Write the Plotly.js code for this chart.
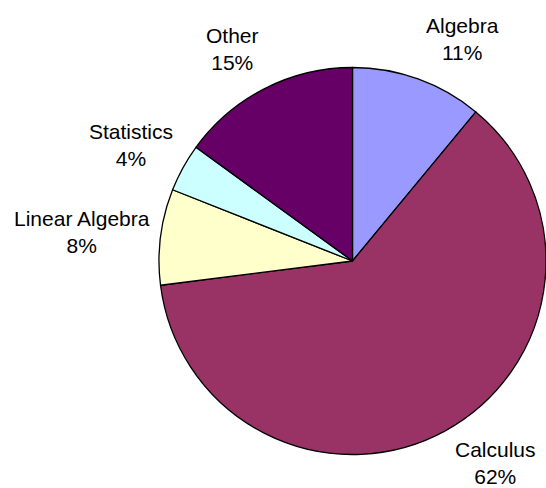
<!DOCTYPE html>
<html>
<head>
<meta charset="utf-8">
<script src="https://cdn.plot.ly/plotly-3.0.1.min.js"></script>
<style>
html,body{margin:0;padding:0;background:#fff;overflow:hidden;}
#chart{width:546px;height:488px;}
</style>
</head>
<body>
<div id="chart"></div>
<script>
// ---- data ----
const categories = ['Algebra', 'Calculus', 'Linear Algebra', 'Statistics', 'Other'];
const shares = [11, 62, 8, 4, 15];
const sliceColors = ['#9999FF', '#993366', '#FFFFCC', '#CCFFFF', '#660066'];

// ---- layout helpers (label placement in pixels: centre x, top y) ----
const W = 546, H = 488;
const labelAnchors = [
  [462.5, 11.5],
  [495.5, 436],
  [82, 205],
  [131, 118.3],
  [232.5, 22]
];

const total = shares.reduce((a, b) => a + b, 0);
const annotations = categories.map((c, i) => ({
  text: c + '<br>' + Math.round(shares[i] / total * 100) + '%',
  x: labelAnchors[i][0] / W,
  y: 1 - labelAnchors[i][1] / H,
  xref: 'paper', yref: 'paper',
  xanchor: 'center', yanchor: 'top',
  showarrow: false,
  align: 'center',
  font: {family: '"Liberation Sans", Arial, sans-serif', size: 21, color: '#000'}
}));

const trace = {
  type: 'pie',
  labels: categories,
  values: shares,
  sort: false,
  direction: 'clockwise',
  rotation: 0,
  textinfo: 'none',
  hoverinfo: 'label+percent',
  marker: {colors: sliceColors, line: {color: '#000', width: 1.3}},
  domain: {x: [159 / W, 1], y: [1 - (261 + 193.5) / H, 1 - (261 - 193.5) / H]}
};

const layout = {
  width: W, height: H,
  margin: {l: 0, r: 0, t: 0, b: 0},
  paper_bgcolor: '#fff',
  showlegend: false,
  annotations: annotations
};

Plotly.newPlot('chart', [trace], layout, {displayModeBar: false, staticPlot: true});
</script>
</body>
</html>
